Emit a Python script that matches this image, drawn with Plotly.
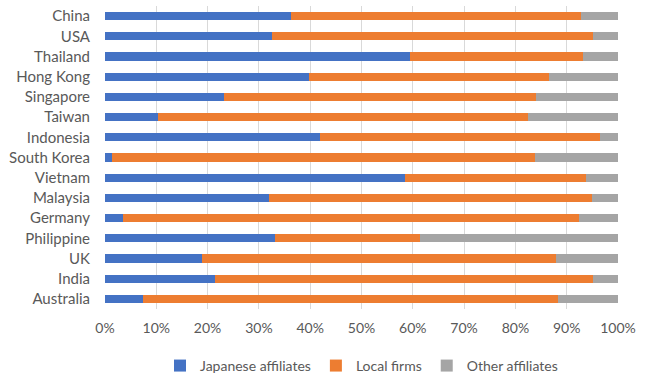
import plotly.graph_objects as go

countries = ["China", "USA", "Thailand", "Hong Kong", "Singapore", "Taiwan", "Indonesia",
             "South Korea", "Vietnam", "Malaysia", "Germany", "Philippine", "UK", "India", "Australia"]
japanese = [36.3, 32.6, 59.5, 39.8, 23.1, 10.3, 41.9, 1.4, 58.4, 32.0, 3.6, 33.1, 19.0, 21.4, 7.4]
local_end = [92.8, 95.2, 93.2, 86.5, 84.1, 82.5, 96.5, 83.8, 93.8, 94.9, 92.3, 61.4, 87.9, 95.1, 88.4]
local = [round(e - j, 1) for e, j in zip(local_end, japanese)]
other = [round(100 - e, 1) for e in local_end]
xticks = [0, 10, 20, 30, 40, 50, 60, 70, 80, 90, 100]
xticklabels = [f"{v}%" for v in xticks]

font_fam = "Lato, Open Sans, sans-serif"
fig = go.Figure()
for name, vals, col in [("Japanese affiliates", japanese, "#4472C4"),
                        ("Local firms", local, "#ED7D31"),
                        ("Other affiliates", other, "#A5A5A5")]:
    fig.add_trace(go.Bar(y=countries, x=vals, name=name, orientation="h",
                         marker=dict(color=col, line=dict(width=0))))

fig.update_layout(
    barmode="stack", bargap=0.6,
    width=645, height=380,
    margin=dict(l=105, r=27, t=6, b=71, autoexpand=False),
    plot_bgcolor="white", paper_bgcolor="white",
    font=dict(family=font_fam, size=14, color="#595959"),
    legend=dict(orientation="h", x=0.5, xanchor="center", y=-0.188, yanchor="middle",
                font=dict(size=14, color="#595959"), traceorder="normal",
                itemwidth=30, tracegroupgap=0),
    xaxis=dict(range=[0, 100], tickvals=xticks, ticktext=xticklabels, showgrid=True,
               gridcolor="#D9D9D9", gridwidth=1, zeroline=False, showline=False,
               tickfont=dict(size=14, color="#595959"), ticklabelstandoff=9),
    yaxis=dict(autorange="reversed", showgrid=False, showline=False,
               tickfont=dict(size=15, color="#595959"), ticklabelstandoff=14),
)
fig.write_html("out.html")
